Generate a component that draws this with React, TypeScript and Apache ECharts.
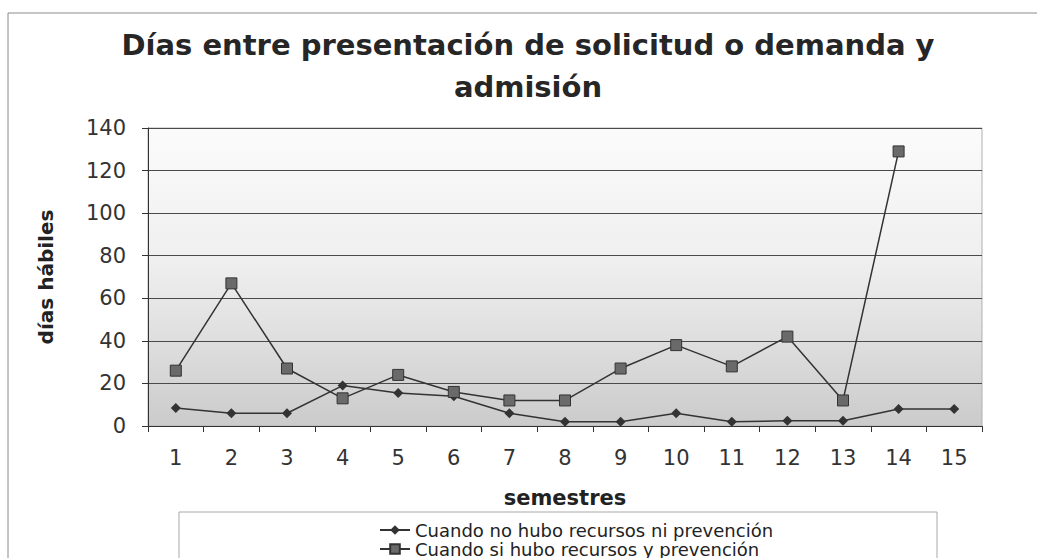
import React, { useEffect, useRef } from "react";
import * as echarts from "echarts";

const titleText = "Días entre presentación de solicitud o demanda y\nadmisión";
const semestres = ["1", "2", "3", "4", "5", "6", "7", "8", "9", "10", "11", "12", "13", "14", "15"];
const sinRecursos = [8.5, 6, 6, 19, 15.5, 14, 6, 2, 2, 6, 2, 2.5, 2.5, 8, 8];
const conRecursos = [26, 67, 27, 13, 24, 16, 12, 12, 27, 38, 28, 42, 12, 129, null];
const serieNames = ["Cuando no hubo recursos ni prevención", "Cuando si hubo recursos y prevención"];

const FONT = "DejaVu Sans";

export default function App() {
  const ref = useRef<HTMLDivElement>(null);
  useEffect(() => {
    if (!ref.current) return;
    const chart = echarts.init(ref.current, null, { renderer: "svg" });
    chart.setOption({
      animation: false,
      backgroundColor: "#ffffff",
      textStyle: { fontFamily: FONT },
      title: {
        text: titleText,
        left: 528,
        textAlign: "center",
        top: 24,
        padding: 0,
        textStyle: { fontFamily: FONT, fontSize: 29, fontWeight: "bold", color: "#262626", lineHeight: 42 },
      },
      graphic: [
        { type: "rect", silent: true, z: -10, shape: { x: 8, y: 13, width: 1100, height: 700 }, style: { fill: "none", stroke: "#8a8a8a", lineWidth: 1 } },
        { type: "rect", silent: true, z: -10, shape: { x: 179, y: 512, width: 758, height: 100 }, style: { fill: "none", stroke: "#a8a8a8", lineWidth: 1 } },
      ],
      legend: {
        orient: "vertical",
        left: 379,
        top: 521,
        height: 80,
        padding: 0,
        itemWidth: 30,
        itemHeight: 12,
        itemGap: 1,
        textStyle: { fontFamily: FONT, fontSize: 18, color: "#222" },
        data: serieNames,
      },
      grid: {
        left: 148,
        right: 55,
        top: 128,
        bottom: 132,
        show: true,
        borderColor: "#b0b0b0",
        borderWidth: 1,
        backgroundColor: new echarts.graphic.LinearGradient(0, 0, 0, 1, [
          { offset: 0, color: "#fbfbfb" },
          { offset: 0.45, color: "#efefef" },
          { offset: 0.75, color: "#dcdcdc" },
          { offset: 1, color: "#cbcbcb" },
        ]),
      },
      xAxis: {
        type: "category",
        data: semestres,
        boundaryGap: true,
        name: "semestres",
        nameLocation: "middle",
        nameGap: 61,
        nameTextStyle: { fontFamily: FONT, fontSize: 21, fontWeight: "bold", color: "#222" },
        axisLine: { show: true, lineStyle: { color: "#333", width: 1 } },
        axisTick: { show: true, length: 6, lineStyle: { color: "#333" } },
        axisLabel: { fontFamily: FONT, fontSize: 21, color: "#333", margin: 21 },
      },
      yAxis: {
        type: "value",
        min: 0,
        max: 140,
        interval: 20,
        name: "días hábiles",
        nameLocation: "middle",
        nameGap: 92,
        nameRotate: 90,
        nameTextStyle: { fontFamily: FONT, fontSize: 20, fontWeight: "bold", color: "#222" },
        axisLine: { show: true, lineStyle: { color: "#333", width: 1 } },
        axisTick: { show: true, length: 6, lineStyle: { color: "#333" } },
        axisLabel: { fontFamily: FONT, fontSize: 21, color: "#333", margin: 22 },
        splitLine: { show: true, lineStyle: { color: "#4a4a4a", width: 1 } },
      },
      series: [
        {
          name: serieNames[0],
          type: "line",
          data: sinRecursos,
          symbol: "diamond",
          symbolSize: 10,
          lineStyle: { color: "#333", width: 1.5 },
          itemStyle: { color: "#333" },
        },
        {
          name: serieNames[1],
          type: "line",
          data: conRecursos,
          symbol: "rect",
          symbolSize: 11,
          lineStyle: { color: "#333", width: 1.5 },
          itemStyle: { color: "#6a6a6a", borderColor: "#333", borderWidth: 1 },
        },
      ],
    });
    return () => chart.dispose();
  }, []);
  return <div ref={ref} style={{ position: "absolute", left: 0, top: 0, width: 1037, height: 558 }} />;
}
